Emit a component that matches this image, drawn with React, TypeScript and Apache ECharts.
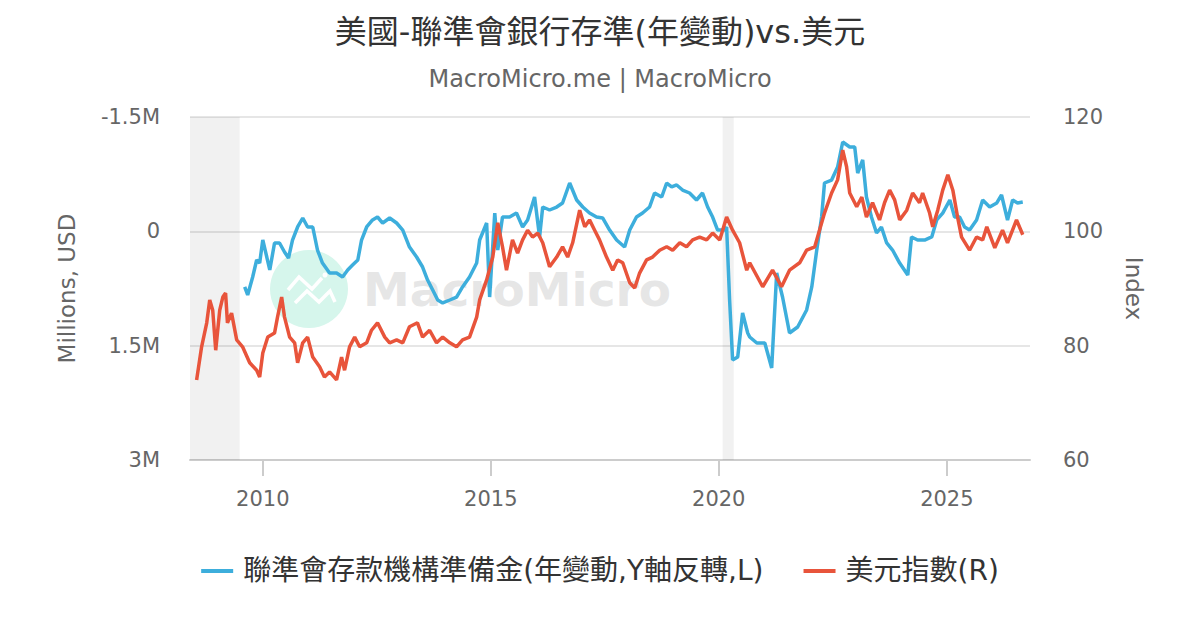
import React, { useEffect, useRef } from "react";
import * as echarts from "echarts";

// 聯準會存款機構準備金(年變動, 百萬美元) — left axis, inverted
const fedDates = [
  "2009-08-09","2009-09-02","2009-10-12","2009-11-13","2009-12-07","2010-01-01","2010-02-02","2010-02-26",
  "2010-04-05","2010-05-15","2010-06-24","2010-07-26","2010-08-27","2010-10-07","2010-11-17","2010-12-26",
  "2011-02-05","2011-03-15","2011-04-24","2011-06-20","2011-08-15","2011-10-02","2011-11-12","2011-12-21",
  "2012-02-01","2012-03-02","2012-04-12","2012-05-29","2012-07-08","2012-08-18","2012-10-13","2012-12-08",
  "2013-01-26","2013-03-21","2013-05-17","2013-07-04","2013-08-13","2013-09-23","2013-11-02","2013-12-12",
  "2014-02-07","2014-04-02","2014-05-20","2014-07-15","2014-09-10","2014-10-04","2014-11-29","2014-12-23",
  "2015-02-02","2015-02-26","2015-04-05","2015-06-01","2015-07-26","2015-09-13","2015-10-23","2015-12-18",
  "2016-01-27","2016-02-21","2016-04-16","2016-06-12","2016-07-29","2016-09-24","2016-11-19","2017-01-07",
  "2017-03-02","2017-04-27","2017-06-15","2017-08-10","2017-10-05","2017-12-08","2018-01-18","2018-03-13",
  "2018-05-01","2018-06-26","2018-08-05","2018-10-01","2018-11-10","2018-12-20","2019-01-29","2019-03-17",
  "2019-05-12","2019-07-07","2019-08-24","2019-10-04","2019-11-13","2019-12-23","2020-02-18","2020-03-04",
  "2020-03-28","2020-04-21","2020-06-01","2020-07-10","2020-08-20","2020-09-05","2020-11-01","2021-01-04",
  "2021-02-28","2021-04-09","2021-05-26","2021-07-21","2021-09-24","2021-12-05","2022-01-15","2022-02-24",
  "2022-04-04","2022-04-27","2022-06-23","2022-08-10","2022-09-20","2022-11-15","2022-12-25","2023-01-18",
  "2023-02-27","2023-03-29","2023-05-08","2023-06-18","2023-07-27","2023-09-07","2023-10-24","2023-12-20",
  "2024-02-23","2024-03-24","2024-05-12","2024-07-07","2024-09-02","2024-10-12","2024-11-29","2025-01-25",
  "2025-03-04","2025-04-13","2025-05-23","2025-07-02","2025-08-27","2025-10-15","2025-12-10","2026-02-05",
  "2026-03-15","2026-05-02","2026-06-12","2026-07-21","2026-09-01",
];
const fedValues = [
  730000, 835000, 599000, 376000, 416000, 114000, 337000, 507000,
  153000, 153000, 271000, 350000, 114000, -57000, -175000, -57000,
  -57000, 245000, 416000, 547000, 547000, 599000, 507000, 442000,
  376000, 114000, -57000, -149000, -188000, -109000, -175000, -109000,
  -17000, 206000, 337000, 468000, 639000, 770000, 901000, 940000,
  901000, 862000, 730000, 599000, 416000, 114000, -109000, 862000,
  -240000, 245000, -188000, -188000, -240000, -57000, -149000, -450000,
  74000, -319000, -280000, -319000, -372000, -634000, -411000, -319000,
  -240000, -188000, -175000, -17000, 114000, 206000, -17000, -188000,
  -240000, -319000, -503000, -450000, -634000, -582000, -608000, -542000,
  -503000, -411000, -503000, -319000, -188000, -17000, -17000, -57000,
  901000, 1688000, 1649000, 1072000, 1334000, 1386000, 1465000, 1465000,
  1793000, 547000, 862000, 1334000, 1255000, 1032000, 730000, 245000,
  -188000, -634000, -673000, -844000, -1172000, -1106000, -1106000, -765000,
  -936000, -450000, -188000, 22000, -57000, 153000, 245000, 416000,
  573000, 74000, 114000, 114000, 74000, -149000, -240000, -411000,
  -188000, -188000, -57000, -17000, -149000, -411000, -319000, -372000,
  -477000, -149000, -411000, -372000, -385000,
];

// 美元指數 — right axis
const dxyDates = [
  "2008-07-20","2008-08-29","2008-10-09","2008-11-02","2008-11-26","2008-12-20","2009-01-21","2009-02-15",
  "2009-03-09","2009-03-24","2009-04-26","2009-06-06","2009-07-23","2009-09-18","2009-11-13","2009-12-07",
  "2010-01-01","2010-02-10","2010-04-05","2010-04-29","2010-06-01","2010-06-24","2010-08-04","2010-09-13",
  "2010-10-07","2010-11-17","2010-12-26","2011-02-05","2011-04-01","2011-05-10","2011-06-20","2011-08-15",
  "2011-09-24","2011-10-18","2011-11-27","2012-01-07","2012-02-16","2012-04-12","2012-05-21","2012-07-08",
  "2012-09-04","2012-10-13","2012-12-08","2013-01-26","2013-03-21","2013-05-24","2013-07-04","2013-08-29",
  "2013-10-24","2013-12-12","2014-02-07","2014-04-02","2014-05-20","2014-07-15","2014-09-10","2014-10-04",
  "2014-11-29","2015-01-17","2015-02-26","2015-04-05","2015-05-07","2015-06-24","2015-08-04","2015-09-13",
  "2015-10-23","2015-12-02","2016-01-12","2016-02-21","2016-04-16","2016-06-12","2016-07-29","2016-09-08",
  "2016-10-18","2016-12-13","2017-01-23","2017-03-02","2017-04-12","2017-05-21","2017-07-16","2017-09-04",
  "2017-10-13","2017-11-23","2018-01-18","2018-02-27","2018-04-07","2018-06-02","2018-07-20","2018-09-15",
  "2018-11-10","2018-12-28","2019-02-23","2019-04-18","2019-06-06","2019-08-01","2019-09-26","2019-11-13",
  "2020-01-09","2020-03-04","2020-04-21","2020-06-16","2020-08-12","2020-09-05","2020-12-18","2021-03-07",
  "2021-05-18","2021-07-21","2021-10-10","2021-12-05","2022-02-08","2022-03-18","2022-04-27","2022-06-23",
  "2022-08-10","2022-09-20","2022-10-21","2022-11-15","2023-01-10","2023-02-20","2023-03-29","2023-05-17",
  "2023-07-12","2023-08-21","2023-10-01","2023-11-10","2023-12-20","2024-02-15","2024-04-02","2024-05-27",
  "2024-06-21","2024-08-16","2024-09-10","2024-10-20","2024-11-29","2025-01-09","2025-02-18","2025-03-28",
  "2025-04-29","2025-07-02","2025-08-27","2025-10-15","2025-11-17","2026-01-20","2026-03-23","2026-05-02",
  "2026-07-13","2026-09-01",
];
const dxyValues = [
  74.0, 79.8, 84.0, 88.0, 86.2, 79.2, 86.2, 88.5,
  89.2, 84.0, 85.7, 81.0, 79.8, 77.0, 75.7, 74.5,
  78.7, 81.5, 82.2, 85.0, 88.5, 85.0, 81.5, 80.5,
  77.0, 80.5, 81.5, 78.0, 76.3, 74.5, 75.4, 74.0,
  78.0, 75.7, 79.8, 81.5, 79.8, 80.5, 82.7, 84.0,
  81.5, 80.5, 81.0, 80.5, 83.3, 84.0, 81.5, 82.7,
  80.5, 81.5, 80.5, 79.8, 81.0, 81.5, 85.0, 88.0,
  91.5, 95.5, 101.5, 97.3, 93.2, 98.5, 96.2, 98.5,
  100.2, 99.0, 99.7, 98.0, 93.8, 95.5, 97.3, 95.5,
  98.0, 103.7, 100.8, 102.0, 100.2, 98.5, 95.5, 93.2,
  95.0, 94.5, 91.0, 90.1, 92.7, 95.0, 95.5, 96.7,
  97.3, 96.7, 98.0, 97.3, 98.5, 99.0, 98.5, 99.7,
  98.5, 102.5, 100.2, 98.0, 93.2, 94.5, 90.3, 93.2,
  90.3, 93.2, 94.5, 96.7, 97.3, 100.2, 103.2, 106.7,
  109.0, 114.2, 111.3, 106.7, 104.3, 106.0, 102.5, 105.0,
  102.0, 105.0, 107.2, 105.5, 102.0, 103.7, 106.7, 105.0,
  106.7, 103.2, 100.8, 103.7, 107.2, 109.9, 107.2, 102.5,
  99.0, 96.7, 99.0, 98.5, 100.8, 97.1, 100.2, 98.0,
  102.0, 99.4,
];

// Recession shading
const recessions = [
  ["2008-05-28", "2009-06-30"],
  ["2020-02-01", "2020-04-30"],
];

const xRange = ["2008-05-28", "2026-10-29"];
const leftTicks = [-1500000, 0, 1500000, 3000000];
const rightTicks = [60, 80, 100, 120];
const yearTicks = ["2010-01-01", "2015-01-01", "2020-01-01", "2025-01-01"];

const titleText = "美國-聯準會銀行存準(年變動)vs.美元";
const subtitleText = "MacroMicro.me | MacroMicro";
const seriesNames = ["聯準會存款機構準備金(年變動,Y軸反轉,L)", "美元指數(R)"];

const FONT = '"DejaVu Sans", "Noto Sans CJK TC", sans-serif';
const BLUE = "#3DAEDC";
const RED = "#E8543B";

const ts = (d: string) => Date.parse(d + "T00:00:00Z");

export default function App() {
  const ref = useRef<HTMLDivElement>(null);

  useEffect(() => {
    document.body.style.margin = "0";
    if (!ref.current) return;
    const chart = echarts.init(ref.current, undefined, { renderer: "svg" });
    const yearValues = yearTicks.map(ts);

    chart.setOption({
      animation: false,
      backgroundColor: "#ffffff",
      textStyle: { fontFamily: FONT },
      title: [
        {
          text: titleText,
          left: "center",
          top: 11,
          textStyle: { fontSize: 32, fontWeight: "normal", color: "#333333", fontFamily: FONT },
        },
        {
          text: subtitleText,
          left: "center",
          top: 62,
          textStyle: { fontSize: 24, fontWeight: "normal", color: "#666666", fontFamily: FONT },
        },
      ],
      legend: {
        bottom: 40,
        left: "center",
        icon: "rect",
        itemWidth: 32,
        itemHeight: 4,
        itemGap: 40,
        textStyle: { fontSize: 28, color: "#333333", fontFamily: FONT, padding: [0, 0, 0, 5] },
        data: seriesNames,
      },
      grid: { left: 190, right: 170, top: 117, bottom: 170, containLabel: false },
      xAxis: {
        type: "value",
        min: ts(xRange[0]),
        max: ts(xRange[1]),
        axisLine: { show: true, onZero: false, lineStyle: { color: "#cccccc", width: 2 } },
        axisTick: {
          show: true,
          inside: false,
          customValues: yearValues,
          length: 16,
          lineStyle: { color: "#cccccc", width: 2 },
        },
        axisLabel: {
          customValues: yearValues,
          formatter: (v: number) => String(new Date(v).getUTCFullYear()),
          fontSize: 21,
          color: "#666666",
          margin: 28,
          fontFamily: FONT,
        },
        splitLine: { show: false },
      },
      yAxis: [
        {
          type: "value",
          inverse: true,
          min: leftTicks[0],
          max: leftTicks[leftTicks.length - 1],
          interval: 1500000,
          name: "Millions, USD",
          nameLocation: "middle",
          nameGap: 112,
          nameRotate: 90,
          nameTextStyle: { fontSize: 23, color: "#666666", fontFamily: FONT },
          axisLine: { show: false },
          axisTick: { show: false },
          axisLabel: {
            fontSize: 21,
            color: "#666666",
            margin: 30,
            fontFamily: FONT,
            formatter: (v: number) => (v === 0 ? "0" : `${v / 1000000}M`),
          },
          splitLine: { show: true, lineStyle: { color: "#e6e6e6", width: 2 } },
        },
        {
          type: "value",
          min: rightTicks[0],
          max: rightTicks[rightTicks.length - 1],
          interval: 20,
          position: "right",
          name: "Index",
          nameLocation: "middle",
          nameGap: 92,
          nameRotate: -90,
          nameTextStyle: { fontSize: 23, color: "#666666", fontFamily: FONT },
          axisLine: { show: false },
          axisTick: { show: false },
          axisLabel: { fontSize: 21, color: "#666666", margin: 33, fontFamily: FONT },
          splitLine: { show: false },
        },
      ],
      graphic: [
        {
          type: "group",
          silent: true,
          z: 0,
          children: [
            { type: "circle", shape: { cx: 309, cy: 289, r: 39 }, style: { fill: "#d6f6ec" } },
            {
              type: "polyline",
              shape: { points: [[288, 290], [299, 277], [312, 289], [322, 278]] },
              style: { stroke: "#ffffff", lineWidth: 3.5, fill: "none" },
            },
            { type: "circle", shape: { cx: 325, cy: 275, r: 2.5 }, style: { fill: "#ffffff" } },
            {
              type: "polyline",
              shape: { points: [[295, 303], [307, 291], [319, 302], [330, 291], [335, 302]] },
              style: { stroke: "#ffffff", lineWidth: 3.5, fill: "none" },
            },
            {
              type: "text",
              x: 363,
              y: 289,
              style: {
                text: "MacroMicro",
                fontSize: 47,
                fontWeight: "bold",
                fontFamily: FONT,
                fill: "rgba(200,200,200,0.45)",
                verticalAlign: "middle",
                align: "left",
              },
            },
          ],
        },
      ],
      series: [
        {
          name: seriesNames[0],
          type: "line",
          yAxisIndex: 0,
          showSymbol: false,
          symbol: "none",
          data: fedDates.map((d, i) => [ts(d), fedValues[i]]),
          lineStyle: { color: BLUE, width: 3.5 },
          itemStyle: { color: BLUE },
          markArea: {
            silent: true,
            itemStyle: { color: "rgba(0,0,0,0.055)" },
            data: recessions.map(([a, b]) => [{ xAxis: ts(a) }, { xAxis: ts(b) }]),
          },
          z: 2,
        },
        {
          name: seriesNames[1],
          type: "line",
          yAxisIndex: 1,
          showSymbol: false,
          symbol: "none",
          data: dxyDates.map((d, i) => [ts(d), dxyValues[i]]),
          lineStyle: { color: RED, width: 3.5 },
          itemStyle: { color: RED },
          z: 3,
        },
      ],
    });

    return () => chart.dispose();
  }, []);

  return <div ref={ref} style={{ width: 1200, height: 630 }} />;
}
